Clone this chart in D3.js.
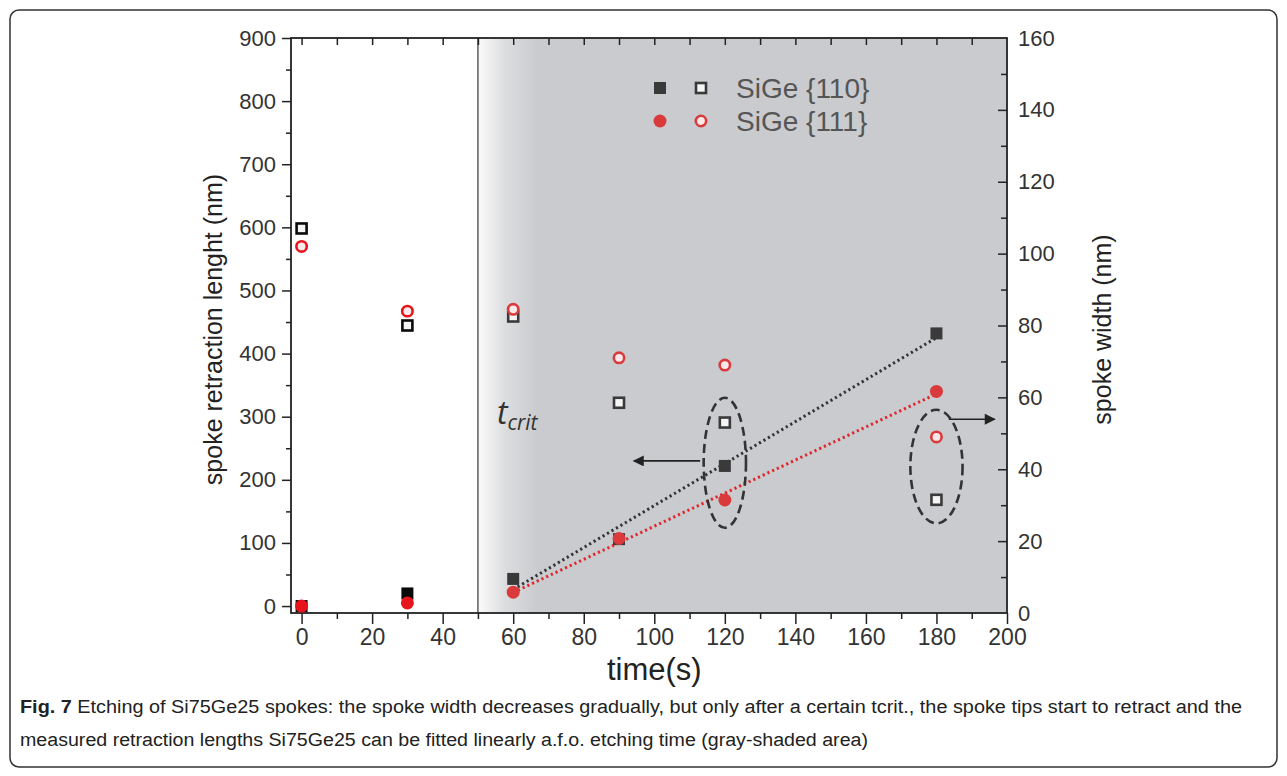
<!DOCTYPE html>
<html lang="en">
<head>
    <meta charset="UTF-8">
    <title>Fig. 7 spoke etching</title>
    <script src="https://d3js.org/d3.v7.min.js"></script>
    <style>
        body { margin: 0; background: #fff; }
        svg { font-family: "Liberation Sans", Arial, sans-serif; }
        .tick text { fill: #333; }
    </style>
</head>
<body>
    <div id="chart"></div>
    <script>
        // etching time (s)
        const times = [0, 30, 60, 90, 120, 180];
        // retraction length (nm), left axis, filled markers
        const retract110 = [0, 20, 43, 106, 222, 432];
        const retract111 = [0, 5, 22, 107, 168, 340];
        // spoke width (nm), right axis, open markers
        const width110 = [107, 80, 82.5, 58.5, 53, 31.5];
        const width111 = [102, 84, 84.5, 71, 69, 49];

        const xTicks = [0, 20, 40, 60, 80, 100, 120, 140, 160, 180, 200];
        const leftTicks = [0, 100, 200, 300, 400, 500, 600, 700, 800, 900];
        const rightTicks = [0, 20, 40, 60, 80, 100, 120, 140, 160];
        const legendNames = ["SiGe {110}", "SiGe {111}"];
        const tcrit = 50;

        const W = 1287, H = 776;
        const box = {left: 291, right: 1007, top: 38, bottom: 613};
        const FONT = "'Liberation Sans', Arial, sans-serif";

        const svg = d3.select("#chart").append("svg")
            .attr("width", W)
            .attr("height", H);

        // outer frame of the figure
        svg.append("rect")
            .attr("x", 10).attr("y", 10)
            .attr("width", W - 20).attr("height", H - 19)
            .attr("rx", 9)
            .attr("fill", "none")
            .attr("stroke", "#333")
            .attr("stroke-width", 1.5);

        const x = d3.scaleLinear().domain([-3, 200]).range([box.left, box.right]);
        const yL = d3.scaleLinear().domain([-11, 900]).range([box.bottom, box.top]);
        const yR = d3.scaleLinear().domain([0, 160]).range([box.bottom, box.top]);

        // gray shading after t_crit
        const grad = svg.append("defs").append("linearGradient")
            .attr("id", "shade")
            .attr("x1", "0").attr("x2", "1").attr("y1", "0").attr("y2", "0");
        const gx = (x(tcrit + 17) - x(tcrit)) / (box.right - x(tcrit));
        grad.append("stop").attr("offset", 0).attr("stop-color", "#fbfbfb");
        grad.append("stop").attr("offset", gx * 0.45).attr("stop-color", "#dcdddf");
        grad.append("stop").attr("offset", gx).attr("stop-color", "#c9cbce");
        grad.append("stop").attr("offset", 1).attr("stop-color", "#c9cbce");

        svg.append("rect")
            .attr("x", x(tcrit)).attr("y", box.top)
            .attr("width", box.right - x(tcrit))
            .attr("height", box.bottom - box.top)
            .attr("fill", "url(#shade)");

        svg.append("line")
            .attr("x1", x(tcrit)).attr("x2", x(tcrit))
            .attr("y1", box.top).attr("y2", box.bottom)
            .attr("stroke", "#444").attr("stroke-width", 1.3);

        // axes
        const minor = (step, lo, hi) => d3.range(lo, hi + 0.01, step);

        function drawAxis(axis) {
            const g = svg.append("g").call(axis).attr("font-family", FONT);
            g.select(".domain").remove();
            g.selectAll(".tick line").attr("stroke", "#222").attr("stroke-width", 1.5);
            return g;
        }

        // bottom
        drawAxis(d3.axisBottom(x).tickValues(minor(10, 10, 190).filter(v => v % 20)).tickSize(6).tickFormat(""))
            .attr("transform", `translate(0,${box.bottom})`);
        drawAxis(d3.axisBottom(x).tickValues(xTicks).tickSize(11).tickPadding(5).tickFormat(d3.format("d")))
            .attr("transform", `translate(0,${box.bottom})`)
            .selectAll("text")
            .style("font-size", "23px");
        // top (inward)
        drawAxis(d3.axisBottom(x).tickValues(minor(10, 0, 190)).tickSize(7).tickFormat(""))
            .attr("transform", `translate(0,${box.top})`);
        // left
        drawAxis(d3.axisLeft(yL).tickValues(minor(50, 50, 850).filter(v => v % 100)).tickSize(5).tickFormat(""))
            .attr("transform", `translate(${box.left},0)`);
        drawAxis(d3.axisLeft(yL).tickValues(leftTicks).tickSize(9).tickPadding(6))
            .attr("transform", `translate(${box.left},0)`)
            .selectAll("text").style("font-size", "22px");
        // right (inward ticks)
        drawAxis(d3.axisLeft(yR).tickValues(minor(10, 10, 150).filter(v => v % 20)).tickSize(6).tickFormat(""))
            .attr("transform", `translate(${box.right},0)`);
        const rAx = drawAxis(d3.axisLeft(yR).tickValues(rightTicks).tickSize(9).tickFormat(d3.format("d")))
            .attr("transform", `translate(${box.right},0)`);
        rAx.selectAll(".tick line").filter(d => d === 0 || d === 160).remove();
        rAx.selectAll("text")
            .attr("x", 11)
            .attr("text-anchor", "start")
            .style("font-size", "22px");

        // plot frame
        svg.append("rect")
            .attr("x", box.left).attr("y", box.top)
            .attr("width", box.right - box.left).attr("height", box.bottom - box.top)
            .attr("fill", "none").attr("stroke", "#222").attr("stroke-width", 1.8);

        // axis titles
        svg.append("text")
            .attr("transform", `translate(222,${(box.top + box.bottom) / 2 + 4}) rotate(-90)`)
            .attr("text-anchor", "middle")
            .style("font-size", "25px").attr("fill", "#222")
            .text("spoke retraction lenght (nm)");
        svg.append("text")
            .attr("transform", `translate(1111,${(box.top + box.bottom) / 2 + 4}) rotate(-90)`)
            .attr("text-anchor", "middle")
            .style("font-size", "25px").attr("fill", "#222")
            .text("spoke width (nm)");
        svg.append("text")
            .attr("x", x(100)).attr("y", 680)
            .attr("text-anchor", "middle")
            .style("font-size", "31px").attr("fill", "#222")
            .text("time(s)");

        // linear fits for t > t_crit
        function linFit(xs, ys) {
            const mx = d3.mean(xs), my = d3.mean(ys);
            const sxy = d3.sum(xs, (v, i) => (v - mx) * (ys[i] - my));
            const sxx = d3.sum(xs, v => (v - mx) * (v - mx));
            const b = sxy / sxx;
            return t => my + b * (t - mx);
        }
        const fitIdx = times.map((t, i) => i).filter(i => times[i] > tcrit);
        const fitT = fitIdx.map(i => times[i]);
        const fits = [
            {f: linFit(fitT, fitIdx.map(i => retract110[i])), color: "#333"},
            {f: linFit(fitT, fitIdx.map(i => retract111[i])), color: "#e0262b"}
        ];
        fits.forEach(d => {
            const t0 = d3.min(fitT), t1 = d3.max(fitT);
            svg.append("line")
                .attr("x1", x(t0)).attr("y1", yL(d.f(t0)))
                .attr("x2", x(t1)).attr("y2", yL(d.f(t1)))
                .attr("stroke", d.color)
                .attr("stroke-width", 3)
                .attr("stroke-dasharray", "2.2,3");
        });

        // markers
        const dark = t => t > tcrit ? "#3a3a3a" : "#0a0a0a";
        const red = t => t > tcrit ? "#da3a3c" : "#e8141b";
        const sq = 12, rad = 6.5;

        function squares(vals, y, open) {
            svg.append("g").selectAll("rect")
                .data(times.map((t, i) => [t, vals[i]]))
                .join("rect")
                .attr("x", d => x(d[0]) - sq / 2 + (open ? 1 : 0))
                .attr("y", d => y(d[1]) - sq / 2 + (open ? 1 : 0))
                .attr("width", open ? sq - 2 : sq)
                .attr("height", open ? sq - 2 : sq)
                .attr("fill", d => open ? "#f5f5f5" : dark(d[0]))
                .attr("stroke", d => open ? dark(d[0]) : "none")
                .attr("stroke-width", 2.6);
        }
        function circles(vals, y, open) {
            svg.append("g").selectAll("circle")
                .data(times.map((t, i) => [t, vals[i]]))
                .join("circle")
                .attr("cx", d => x(d[0]))
                .attr("cy", d => y(d[1]))
                .attr("r", open ? rad - 1.3 : rad)
                .attr("fill", d => open ? "#fbe9e9" : red(d[0]))
                .attr("stroke", d => open ? red(d[0]) : "none")
                .attr("stroke-width", 2.6);
        }
        squares(width110, yR, true);
        circles(width111, yR, true);
        squares(retract110, yL, false);
        circles(retract111, yL, false);

        // legend
        const lg = svg.append("g").attr("transform", "translate(660,88)");
        legendNames.forEach((name, i) => {
            const row = lg.append("g").attr("transform", `translate(0,${i * 33})`);
            if (i === 0) {
                row.append("rect").attr("x", -6).attr("y", -6).attr("width", 12).attr("height", 12).attr("fill", "#3a3a3a");
                row.append("rect").attr("x", 36).attr("y", -5).attr("width", 10).attr("height", 10)
                    .attr("fill", "#f5f5f5").attr("stroke", "#3a3a3a").attr("stroke-width", 2.6);
            } else {
                row.append("circle").attr("r", 6.5).attr("fill", "#da3a3c");
                row.append("circle").attr("cx", 41).attr("r", 5.2)
                    .attr("fill", "#fbe9e9").attr("stroke", "#da3a3c").attr("stroke-width", 2.6);
            }
            row.append("text")
                .attr("x", 76).attr("y", 10)
                .style("font-size", "28px").attr("fill", "#555")
                .text(name);
        });

        // t_crit label
        const tl = svg.append("text")
            .attr("x", x(tcrit) + 19).attr("y", 424)
            .attr("fill", "#333")
            .style("font-family", "'Open Sans', 'DejaVu Sans', sans-serif")
            .style("font-style", "italic");
        tl.append("tspan").style("font-size", "32px").text("t");
        tl.append("tspan").attr("dy", 6).style("font-size", "21px").text("crit");

        // dashed ellipses and arrows
        const ellipses = [
            {t: 120, v: 227, rt: 6, rv: 103},
            {t: 180, v: 221, rt: 7.4, rv: 90}
        ];
        svg.append("g").selectAll("ellipse")
            .data(ellipses)
            .join("ellipse")
            .attr("cx", d => x(d.t))
            .attr("cy", d => yL(d.v))
            .attr("rx", d => x(d.t + d.rt) - x(d.t))
            .attr("ry", d => yL(0) - yL(d.rv))
            .attr("fill", "none")
            .attr("stroke", "#333")
            .attr("stroke-width", 2.6)
            .attr("stroke-dasharray", "9,5");

        svg.append("defs").append("marker")
            .attr("id", "head2")
            .attr("viewBox", "0 0 10 10")
            .attr("refX", 9).attr("refY", 5)
            .attr("markerWidth", 13).attr("markerHeight", 11)
            .attr("markerUnits", "userSpaceOnUse")
            .attr("orient", "auto")
            .append("path").attr("d", "M0,0L10,5L0,10Z").attr("fill", "#222");

        const arrows = [
            {t0: 113, t1: 94.2, v: 230},
            {t0: 183.5, t1: 196.5, v: 296}
        ];
        svg.append("g").selectAll("line")
            .data(arrows)
            .join("line")
            .attr("x1", d => x(d.t0)).attr("x2", d => x(d.t1))
            .attr("y1", d => yL(d.v)).attr("y2", d => yL(d.v))
            .attr("stroke", "#222").attr("stroke-width", 1.6)
            .attr("marker-end", "url(#head2)");

        // caption
        const cap = svg.append("g").attr("fill", "#222").style("font-size", "18px");
        const l1 = cap.append("text").attr("x", 20).attr("y", 713)
            .attr("textLength", 1222).attr("lengthAdjust", "spacingAndGlyphs");
        l1.append("tspan").style("font-weight", "bold").text("Fig. 7");
        l1.append("tspan").text(" Etching of Si75Ge25 spokes: the spoke width decreases gradually, but only after a certain tcrit., the spoke tips start to retract and the");
        cap.append("text").attr("x", 20).attr("y", 746)
            .attr("textLength", 848).attr("lengthAdjust", "spacingAndGlyphs")
            .text("measured retraction lengths Si75Ge25 can be fitted linearly a.f.o. etching time (gray-shaded area)");
    </script>
</body>
</html>
